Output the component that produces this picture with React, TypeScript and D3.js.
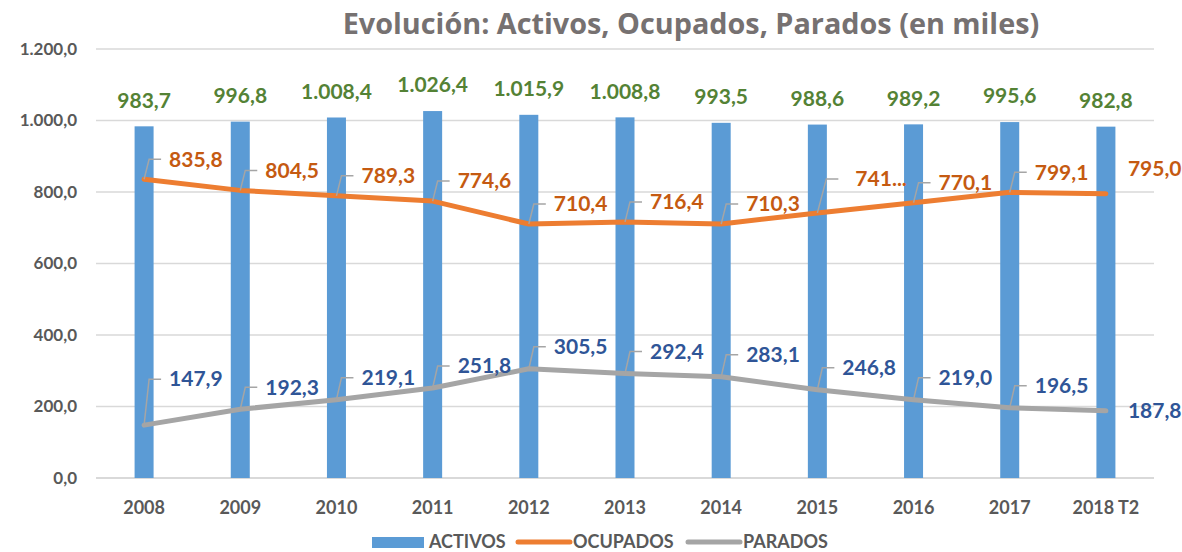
import React, { useEffect, useRef } from 'react'
import * as d3 from 'd3'

// datos (miles de personas)
const categories = ['2008', '2009', '2010', '2011', '2012', '2013', '2014', '2015', '2016', '2017', '2018 T2']
const activos = [983.7, 996.8, 1008.4, 1026.4, 1015.9, 1008.8, 993.5, 988.6, 989.2, 995.6, 982.8]
const ocupados = [835.8, 804.5, 789.3, 774.6, 710.4, 716.4, 710.3, 741.5, 770.1, 799.1, 795.0]
const parados = [147.9, 192.3, 219.1, 251.8, 305.5, 292.4, 283.1, 246.8, 219.0, 196.5, 187.8]
const yTicks = [0, 200, 400, 600, 800, 1000, 1200]
const seriesNames = ['ACTIVOS', 'OCUPADOS', 'PARADOS']

const W = 1182
const H = 552
const FONT = 'Lato, "Open Sans", sans-serif'

const es = d3.formatLocale({ decimal: ',', thousands: '.', grouping: [3], currency: ['', ' €'] })
const fmt = es.format(',.1f')

export default function App() {
  const ref = useRef<SVGSVGElement>(null)

  useEffect(() => {
    const svg = d3.select(ref.current)
    svg.selectAll('*').remove()

    const x = d3.scaleBand().domain(categories).range([96, 1154])
    const y = d3.scaleLinear().domain([0, 1200]).range([478, 49])
    const cx = (i: number) => x(categories[i])! + x.bandwidth() / 2

    // title
    svg.append('text')
      .attr('x', 691).attr('y', 34)
      .attr('text-anchor', 'middle')
      .style('font-family', '"Open Sans", Lato, sans-serif').style('font-weight', 700).style('font-size', '28.8px')
      .attr('fill', '#767171')
      .text('Evolución: Activos, Ocupados, Parados (en miles)')

    // grid
    svg.append('g').selectAll('line')
      .data(yTicks)
      .enter().append('line')
      .attr('x1', 96).attr('x2', 1154)
      .attr('y1', d => y(d)).attr('y2', d => y(d))
      .attr('stroke', '#D9D9D9')
      .attr('stroke-width', d => d === 0 ? 2 : 1.3)

    // y labels
    svg.append('g').selectAll('text')
      .data(yTicks)
      .enter().append('text')
      .attr('x', 77).attr('y', d => y(d))
      .attr('dy', '0.35em')
      .attr('text-anchor', 'end')
      .style('font-family', FONT).style('font-weight', 700).style('font-size', '17px')
      .attr('fill', '#595959')
      .text(d => fmt(d))

    // x labels
    svg.append('g').selectAll('text')
      .data(categories)
      .enter().append('text')
      .attr('x', (d, i) => cx(i)).attr('y', 508)
      .attr('dy', '0.35em')
      .attr('text-anchor', 'middle')
      .style('font-family', FONT).style('font-weight', 700).style('font-size', '18px')
      .attr('fill', '#595959')
      .text(d => d)

    // bars
    const bw = 19
    svg.append('g').selectAll('rect')
      .data(activos)
      .enter().append('rect')
      .attr('x', (d, i) => cx(i) - bw / 2)
      .attr('y', d => y(d))
      .attr('width', bw)
      .attr('height', d => y(0) - y(d))
      .attr('fill', '#5B9BD5')

    svg.append('g').selectAll('text')
      .data(activos)
      .enter().append('text')
      .attr('x', (d, i) => cx(i)).attr('y', d => y(d) - 26)
      .attr('dy', '0.35em')
      .attr('text-anchor', 'middle')
      .style('font-family', FONT).style('font-weight', 700).style('font-size', '21px')
      .attr('fill', '#548235')
      .text(d => fmt(d))

    // lines
    const line = d3.line<number>()
      .x((d, i) => cx(i))
      .y(d => y(d))

    const drawSeries = (data: number[], stroke: string, labelColor: string, lift: (i: number) => number, lastLift: number, labelText: (d: number, i: number) => string) => {
      svg.append('path')
        .datum(data)
        .attr('d', line)
        .attr('fill', 'none')
        .attr('stroke', stroke)
        .attr('stroke-width', 5)
        .attr('stroke-linecap', 'round')
        .attr('stroke-linejoin', 'round')

      const last = data.length - 1
      const g = svg.append('g')
      // leader lines
      g.selectAll('path')
        .data(data.slice(0, last))
        .enter().append('path')
        .attr('d', (d, i) => {
          const px = cx(i), py = y(d), ty = py - lift(i)
          const dx = i === 7 && lift(i) > 25 ? 9 : 5
          return `M${px},${py}L${px + dx},${ty}L${px + dx + 12},${ty}`
        })
        .attr('fill', 'none')
        .attr('stroke', '#A5A5A5')
        .attr('stroke-width', 1.5)

      g.selectAll('text')
        .data(data)
        .enter().append('text')
        .attr('x', (d, i) => i === last ? cx(i) + 22 : cx(i) + (i === 7 && lift(i) > 25 ? 38 : 25))
        .attr('y', (d, i) => i === last ? y(d) - lastLift : y(d) - lift(i))
        .attr('dy', '0.35em')
        .style('font-family', FONT).style('font-weight', 700).style('font-size', '21px')
        .attr('fill', labelColor)
        .text((d, i) => labelText(d, i))
    }

    drawSeries(ocupados, '#ED7D31', '#C55A11', i => (i === 7 ? 34 : 20), 25,
      (d, i) => (i === 7 ? '741...' : fmt(d)))
    drawSeries(parados, '#A5A5A5', '#2F5597', i => (i === 0 ? 46 : 22), 0,
      d => fmt(d))

    // legend
    const lg = svg.append('g')
    const items = [
      { name: seriesNames[0], x: 372, type: 'rect', color: '#5B9BD5' },
      { name: seriesNames[1], x: 516, type: 'line', color: '#ED7D31' },
      { name: seriesNames[2], x: 686, type: 'line', color: '#A5A5A5' },
    ]
    items.forEach(it => {
      if (it.type === 'rect') {
        lg.append('rect').attr('x', it.x).attr('y', 537).attr('width', 52).attr('height', 11).attr('fill', it.color)
      } else {
        lg.append('line').attr('x1', it.x + 2).attr('x2', it.x + 54).attr('y1', 542).attr('y2', 542)
          .attr('stroke', it.color).attr('stroke-width', 5).attr('stroke-linecap', 'round')
      }
      lg.append('text')
        .attr('x', it.x + 57).attr('y', 542)
        .attr('dy', '0.35em')
        .style('font-family', FONT).style('font-weight', 700).style('font-size', '18px')
        .attr('fill', '#595959')
        .text(it.name)
    })
  }, [])

  return (
    <svg ref={ref} width={W} height={H} style={{ display: 'block', position: 'absolute', left: 0, top: 0, background: '#fff' }} />
  )
}
